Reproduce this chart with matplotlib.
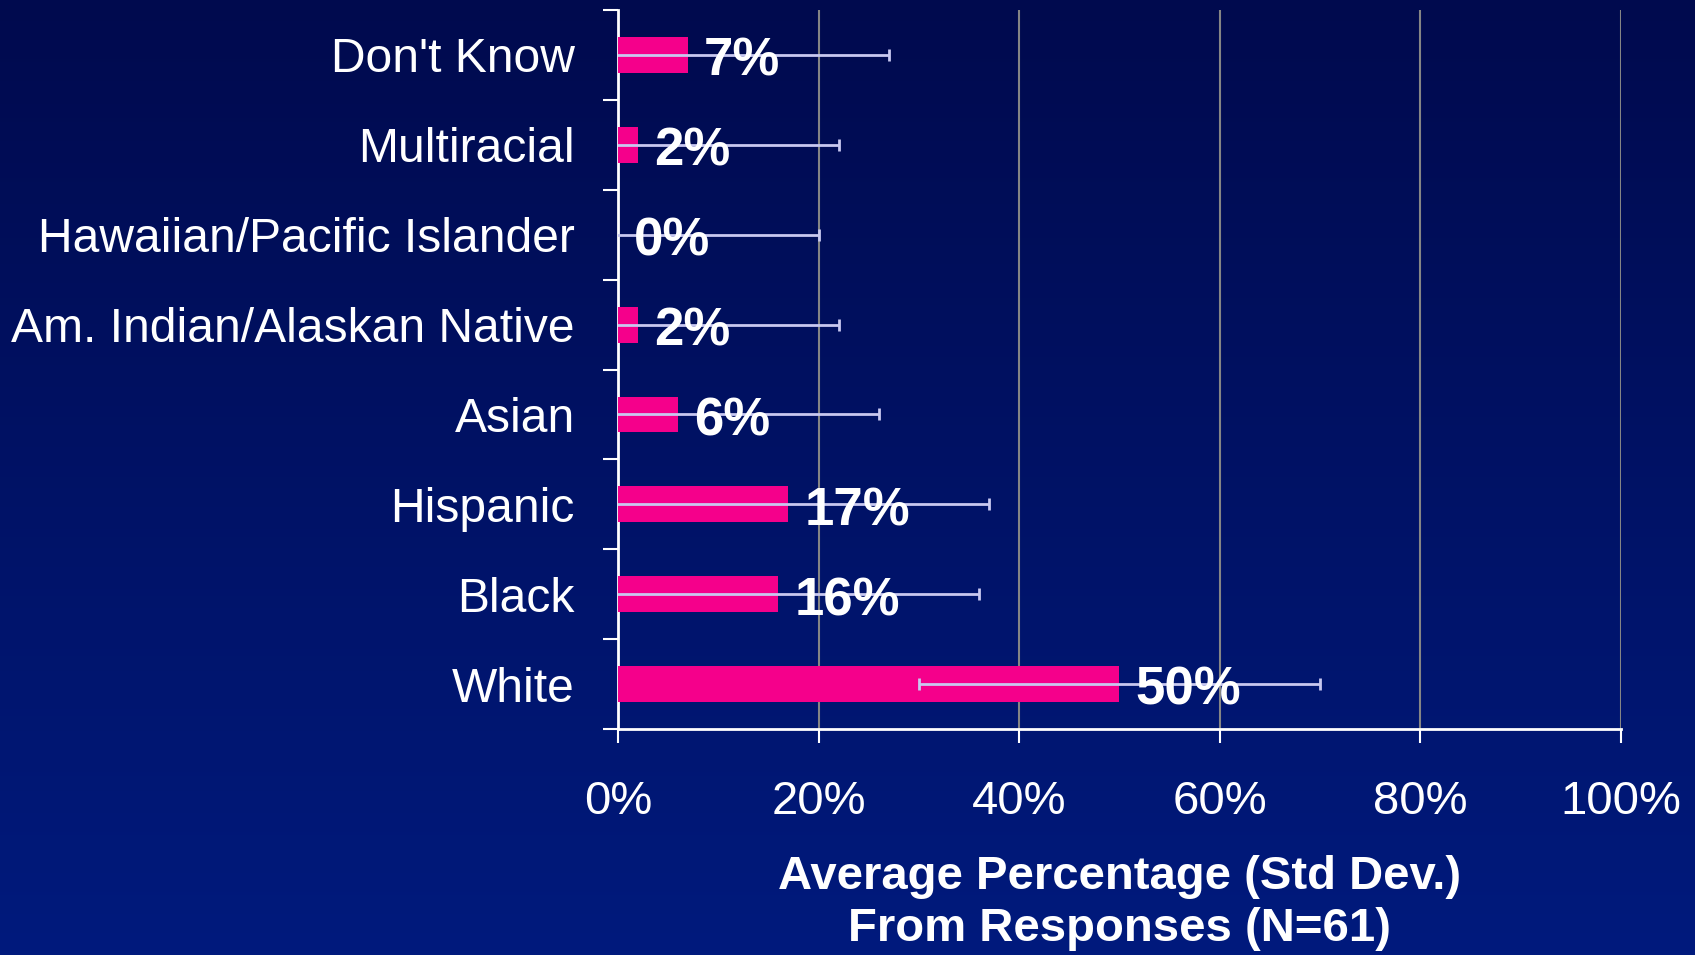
import numpy as np
import matplotlib
matplotlib.use("Agg")
import matplotlib.pyplot as plt
from matplotlib.colors import LinearSegmentedColormap

categories = ["Don't Know", "Multiracial", "Hawaiian/Pacific Islander",
              "Am. Indian/Alaskan Native", "Asian", "Hispanic", "Black", "White"]
values = [7, 2, 0, 2, 6, 17, 16, 50]
std_dev = [20, 20, 20, 20, 20, 20, 20, 20]
xticks = [0, 20, 40, 60, 80, 100]
xticklabels = ["0%", "20%", "40%", "60%", "80%", "100%"]
xlabel = "Average Percentage (Std Dev.)\nFrom Responses (N=61)"

plt.rcParams['font.family'] = ['Liberation Sans', 'DejaVu Sans']

fig = plt.figure(figsize=(16.95, 9.55), dpi=100)

# background gradient
bg = fig.add_axes([0, 0, 1, 1], zorder=-10)
cmap = LinearSegmentedColormap.from_list("bg", ["#000A4E", "#001A7D"])
grad = np.linspace(0, 1, 256).reshape(-1, 1)
bg.imshow(grad, aspect='auto', cmap=cmap, extent=[0, 1, 0, 1], origin='upper')
bg.axis('off')

ax = fig.add_axes([0.3646, 0.2366, 0.5917, 0.7529])
ax.set_facecolor('none')

y = np.arange(len(categories))
ax.barh(y, values, height=0.4, color='#F5008B', zorder=3)
ax.errorbar(values, y, xerr=std_dev, fmt='none', ecolor='#C8C8F0',
            elinewidth=2, capsize=4.5, capthick=2, zorder=4)

for yi, v in zip(y, values):
    ax.annotate(f"{v}%", xy=(v, yi), xytext=(11.5, -15), textcoords='offset points',
                ha='left', va='baseline', color='white', fontsize=38,
                fontweight='bold', zorder=5)

ax.set_xlim(0, 100)
ax.set_ylim(len(categories) - 0.5, -0.5)
ax.set_xticks(xticks)
ax.set_xticklabels(xticklabels)
ax.set_yticks(y)
ax.set_yticklabels(categories)
ax.set_yticks(np.arange(len(categories) + 1) - 0.5, minor=True)

ax.tick_params(axis='y', which='major', length=0, pad=31, labelsize=34.6, labelcolor='white')
ax.tick_params(axis='y', which='minor', length=11, width=1.5, color='white', direction='out')
ax.tick_params(axis='x', which='major', length=10, width=1.5, color='white',
               direction='out', pad=27, labelsize=34, labelcolor='white')

ax.grid(axis='x', color='#858585', linewidth=1.5, zorder=0)
ax.set_axisbelow(True)
for s in ['top', 'right']:
    ax.spines[s].set_visible(False)
for s in ['left', 'bottom']:
    ax.spines[s].set_color('white')
    ax.spines[s].set_linewidth(2)

ax.set_xlabel(xlabel, fontsize=34, fontweight='bold', color='white',
              labelpad=22, linespacing=1.25)

fig.savefig("out.png", dpi=100)
